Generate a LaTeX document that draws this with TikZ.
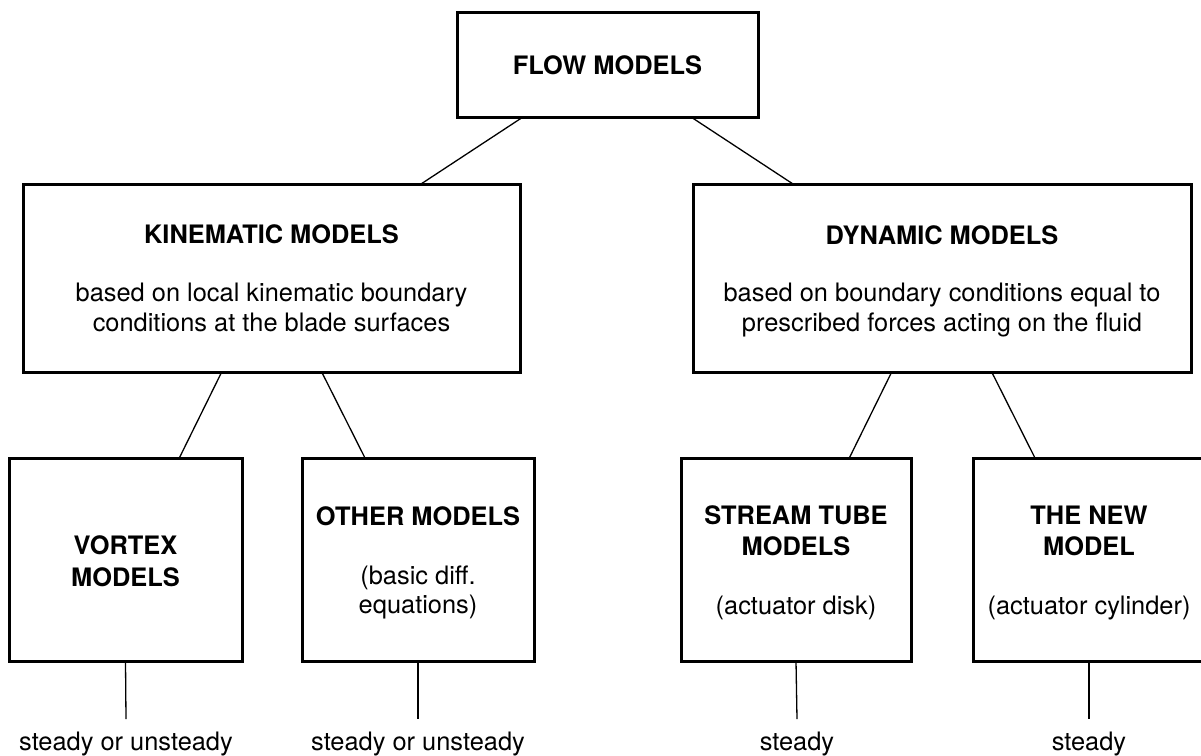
\documentclass[tikz,border=0pt]{standalone}
\usepackage{fontspec}
\setmainfont{TeX Gyre Heros}
\begin{document}
\begin{tikzpicture}[x=1pt,y=-1pt,
  box/.style={draw=black,line width=3pt,fill=white,rectangle,inner sep=0pt,outer sep=0pt},
  conn/.style={draw=black,line width=1.3pt},
  lbl/.style={anchor=base,inner sep=0pt,font=\fontsize{25.4}{30}\selectfont},
  title/.style={lbl,font=\fontsize{25.4}{30}\selectfont\bfseries}]
\fill[white] (0,0) rectangle (1201,755);
\useasboundingbox (0,0) rectangle (1201,755);

% boxes
\node[box,minimum width=301pt,minimum height=105pt] (flow) at (607.5,64.5) {};
\node[box,minimum width=497pt,minimum height=188pt] (kin) at (271.5,278) {};
\node[box,minimum width=498pt,minimum height=188pt] (dyn) at (942,278) {};
\node[box,minimum width=233pt,minimum height=203pt] (vortex) at (125.5,559.5) {};
\node[box,minimum width=232pt,minimum height=203pt] (other) at (418,559.5) {};
\node[box,minimum width=230pt,minimum height=203pt] (stream) at (796,559.5) {};
\node[box,minimum width=232pt,minimum height=203pt] (newm) at (1089,559.5) {};

% connectors between levels
\draw[conn] ([xshift=-84.5pt]flow.south) -- ([xshift=149.5pt]kin.north);
\draw[conn] ([xshift=83.5pt]flow.south) -- ([xshift=-149pt]dyn.north);
\draw[conn] ([xshift=-49.8pt]kin.south) -- ([xshift=53.8pt]vortex.north);
\draw[conn] ([xshift=50.2pt]kin.south) -- ([xshift=-53pt]other.north);
\draw[conn] ([xshift=-50.3pt]dyn.south) -- ([xshift=53.3pt]stream.north);
\draw[conn] ([xshift=49.7pt]dyn.south) -- ([xshift=-54pt]newm.north);

% stems to the regime labels
\coordinate (vend) at (126,719);
\coordinate (oend) at (418,719);
\coordinate (send) at (797,719);
\coordinate (nend) at (1089,719);
\draw[conn] (vortex.south) -- (vend);
\draw[conn] (other.south) -- (oend);
\draw[conn] (stream.south) -- (send);
\draw[conn] (newm.south) -- (nend);

% texts
\node[title] (tflow) at (607.5,74) {FLOW MODELS};

\node[title] (tkin) at (271.5,243.5) {KINEMATIC MODELS};
\node[lbl] (kin1) at (271.5,301.5) {based on local kinematic boundary};
\node[lbl] (kin2) at (271.5,331.5) {conditions at the blade surfaces};

\node[title] (tdyn) at (942,244) {DYNAMIC MODELS};
\node[lbl] (dyn1) at (942,301) {based on boundary conditions equal to};
\node[lbl] (dyn2) at (942,331.5) {prescribed forces acting on the fluid};

\node[title] (tv1) at (125.5,554.5) {VORTEX};
\node[title] (tv2) at (125.5,586) {MODELS};

\node[title] (to1) at (418,525) {OTHER MODELS};
\node[lbl] (to2) at (418,584.5) {(basic diff.};
\node[lbl] (to3) at (418,613.5) {equations)};

\node[title] (ts1) at (796,524) {STREAM TUBE};
\node[title] (ts2) at (796,555) {MODELS};
\node[lbl] (ts3) at (796,614) {(actuator disk)};

\node[title] (tn1) at (1089,524) {THE NEW};
\node[title] (tn2) at (1089,555) {MODEL};
\node[lbl] (tn3) at (1089,614) {(actuator cylinder)};

\node[lbl] (rv) at (126,750.5) {steady or unsteady};
\node[lbl] (ro) at (418,750.5) {steady or unsteady};
\node[lbl] (rs) at (797,750.5) {steady};
\node[lbl] (rn) at (1089,750.5) {steady};
\end{tikzpicture}
\end{document}
